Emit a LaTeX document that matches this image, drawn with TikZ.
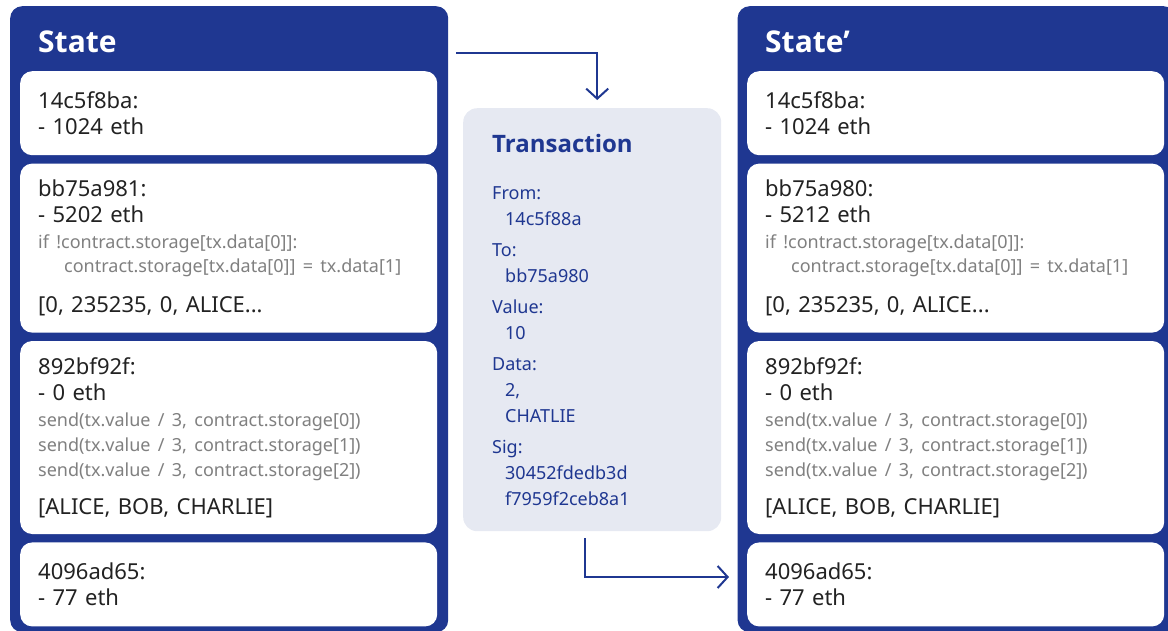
\documentclass[tikz,border=0pt]{standalone}
\usepackage{fontspec}
\setmainfont{Noto Sans}
\newfontfamily\titlefont{Open Sans}
\usepackage{tikz}
\usetikzlibrary{positioning, arrows.meta}
\definecolor{statenavy}{RGB}{31, 55, 145}
\definecolor{txgray}{RGB}{230, 233, 242}
\definecolor{codegray}{RGB}{128, 128, 128}
\definecolor{textdark}{RGB}{34, 34, 34}
\newcommand{\codeline}[1]{{\color{codegray}\fontsize{18}{24}\selectfont #1}}

\begin{document}
\begin{tikzpicture}[x=1pt, y=-1pt, node distance=8pt, every node/.style={font=\fontsize{22}{26}\selectfont, text=textdark},
    panel/.style={rectangle, fill=statenavy, rounded corners=12pt, minimum width=438pt, minimum height=626pt},
    paneltitle/.style={anchor=base west, inner sep=0pt, text=white, font=\titlefont\bfseries\fontsize{30}{36}\selectfont},
    account/.style={rectangle, fill=white, rounded corners=12pt, minimum width=417pt, text width=381pt, inner sep=0pt, align=left},
    flow/.style={draw=statenavy, line width=2pt, -{Straight Barb[length=10pt, width=22pt]}}]
    \useasboundingbox (0,0) rectangle (1168,630);
    \node (state) [panel, anchor=north west] at (10,6) {};
    \node (statetitle) [paneltitle] at (38,52) {State};
    \node (acc1) [account, minimum height=84pt, anchor=north west] at (20,71) {14c5f8ba:\\- 1024 eth};
    \node (acc2) [account, minimum height=169pt, below=of acc1] {bb75a981:\\- 5202 eth\\\codeline{if !contract.storage[tx.data[0]]:}\\[-2pt]\codeline{\hspace*{26pt}contract.storage[tx.data[0]] = tx.data[1]}\\[14pt][0, 235235, 0, ALICE...};
    \node (acc3) [account, minimum height=193pt, below=of acc2] {892bf92f:\\- 0 eth\\\codeline{send(tx.value / 3, contract.storage[0])}\\[-1pt]\codeline{send(tx.value / 3, contract.storage[1])}\\[-1pt]\codeline{send(tx.value / 3, contract.storage[2])}\\[12pt][ALICE, BOB, CHARLIE]};
    \node (acc4) [account, minimum height=84pt, below=of acc3] {4096ad65:\\- 77 eth};

    \node (tx) [rectangle, fill=txgray, rounded corners=14pt, minimum width=258pt, minimum height=423pt, text width=200pt, inner sep=0pt, align=left, text=statenavy, font=\fontsize{18}{26}\selectfont, anchor=north west] at (463,108) {{\titlefont\bfseries\fontsize{24}{30}\selectfont Transaction}\\[21pt]From:\\\hspace*{13pt}14c5f88a\\[5pt]To:\\\hspace*{13pt}bb75a980\\[5pt]Value:\\\hspace*{13pt}10\\[5pt]Data:\\\hspace*{13pt}2,\\\hspace*{13pt}CHATLIE\\[5pt]Sig:\\\hspace*{13pt}30452fdedb3d\\\hspace*{13pt}f7959f2ceb8a1};

    \node (newstate) [panel, right=289pt of state] {};
    \node (newstatetitle) [paneltitle] at (765,52) {State’};
    \node (newacc1) [account, minimum height=84pt, anchor=north west] at (747,71) {14c5f8ba:\\- 1024 eth};
    \node (newacc2) [account, minimum height=169pt, below=of newacc1] {bb75a980:\\- 5212 eth\\\codeline{if !contract.storage[tx.data[0]]:}\\[-2pt]\codeline{\hspace*{26pt}contract.storage[tx.data[0]] = tx.data[1]}\\[14pt][0, 235235, 0, ALICE...};
    \node (newacc3) [account, minimum height=193pt, below=of newacc2] {892bf92f:\\- 0 eth\\\codeline{send(tx.value / 3, contract.storage[0])}\\[-1pt]\codeline{send(tx.value / 3, contract.storage[1])}\\[-1pt]\codeline{send(tx.value / 3, contract.storage[2])}\\[12pt][ALICE, BOB, CHARLIE]};
    \node (newacc4) [account, minimum height=84pt, below=of newacc3] {4096ad65:\\- 77 eth};

    \coordinate (txin) at (456,53);
    \coordinate (txout) at (729,577);
    \draw[flow, shorten >=8pt] (txin) -| ([xshift=5pt]tx.north);
    \draw[flow, shorten <=7pt] ([xshift=-7pt]tx.south) |- (txout);
\end{tikzpicture}
\end{document}
